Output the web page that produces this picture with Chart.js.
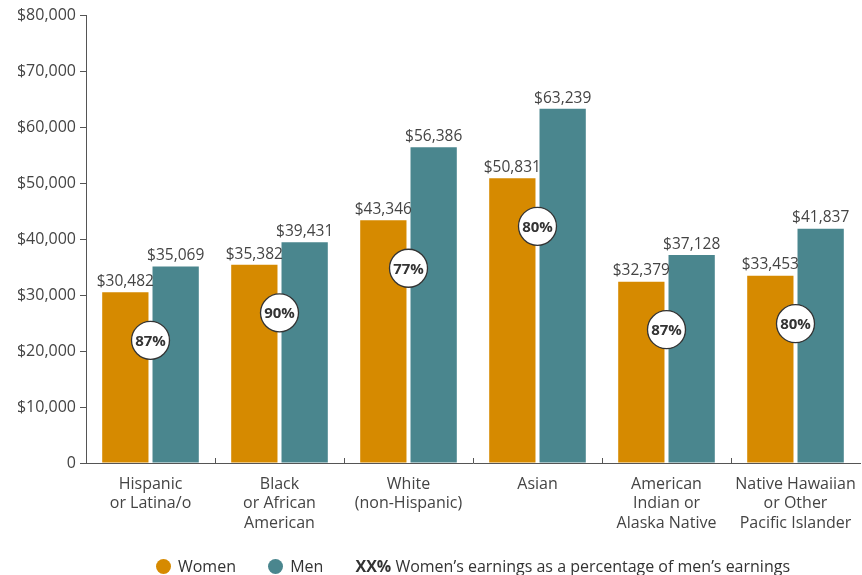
<!DOCTYPE html>
<html>
<head>
<meta charset="utf-8">
<script src="https://cdn.jsdelivr.net/npm/chart.js@4.4.1/dist/chart.umd.min.js"></script>
<style>
  html, body { margin: 0; padding: 0; background: #fff; }
  #wrap { position: relative; width: 862px; height: 575px; }
  #legend {
    position: absolute; left: 0; right: 0; top: 553px;
    text-align: center; font-family: 'Open Sans', sans-serif; font-size: 16px; color: #333;
    padding-left: 84px;
  }
  #legend span.item { display: inline-block; margin-right: 28px; vertical-align: middle; }
  #legend i { display: inline-block; width: 15px; height: 15px; border-radius: 50%; vertical-align: -2px; margin-right: 7px; }
  #legend b { font-weight: 700; }
</style>
</head>
<body>
<div id="wrap">
  <canvas id="myChart" width="862" height="575"></canvas>
  <div id="legend">
    <span class="item"><i style="background:#D68A00"></i>Women</span>
    <span class="item"><i style="background:#4A868E"></i>Men</span>
    <span class="item" style="margin-right:0"><b>XX%</b> Women’s earnings as a percentage of men’s earnings</span>
  </div>
</div>
<script>
const categories = [
    ['Hispanic', 'or Latina/o'],
    ['Black', 'or African', 'American'],
    ['White', '(non-Hispanic)'],
    ['Asian'],
    ['American', 'Indian or', 'Alaska Native'],
    ['Native Hawaiian', 'or Other', 'Pacific Islander']
];
const women = [30482, 35382, 43346, 50831, 32379, 33453];
const men = [35069, 39431, 56386, 63239, 37128, 41837];
const ratios = [87, 90, 77, 80, 87, 80];
const yTicks = [0, 10000, 20000, 30000, 40000, 50000, 60000, 70000, 80000];

const WOMEN_COLOR = '#D68A00';
const MEN_COLOR = '#4A868E';
const FONT = "'Open Sans', sans-serif";

function money(v) {
    return '$' + v.toLocaleString('en-US');
}

const labelsPlugin = {
    id: 'barLabels',
    afterDatasetsDraw(chart) {
        const ctx = chart.ctx;
        ctx.save();
        ctx.font = '15.5px ' + FONT;
        ctx.fillStyle = '#444';
        ctx.textAlign = 'center';
        ctx.textBaseline = 'bottom';
        chart.data.datasets.forEach(function(ds, di) {
            chart.getDatasetMeta(di).data.forEach(function(bar, i) {
                ctx.fillText(money(ds.data[i]), bar.x, bar.y - 3);
            });
        });

        // ratio circles
        const x = chart.scales.x;
        const wMeta = chart.getDatasetMeta(0).data;
        ratios.forEach(function(r, i) {
            const cx = x.getPixelForValue(i);
            const cy = wMeta[i].y + 48;
            ctx.beginPath();
            ctx.arc(cx, cy, 19, 0, Math.PI * 2);
            ctx.fillStyle = '#fff';
            ctx.fill();
            ctx.lineWidth = 1.3;
            ctx.strokeStyle = '#333';
            ctx.stroke();
            ctx.fillStyle = '#333';
            ctx.font = 'bold 15px ' + FONT;
            ctx.textBaseline = 'middle';
            ctx.fillText(r + '%', cx, cy + 1);
        });

        // small x ticks between categories
        const yb = chart.scales.y.getPixelForValue(0);
        ctx.strokeStyle = '#555';
        ctx.lineWidth = 1;
        for (let i = 1; i < categories.length; i++) {
            const bx = Math.round((x.getPixelForValue(i - 1) + x.getPixelForValue(i)) / 2) + 0.5;
            ctx.beginPath();
            ctx.moveTo(bx, yb);
            ctx.lineTo(bx, yb - 5);
            ctx.stroke();
        }
        ctx.restore();
    }
};

new Chart(document.getElementById('myChart'), {
    type: 'bar',
    data: {
        labels: categories,
        datasets: [
            { label: 'Women', data: women, backgroundColor: WOMEN_COLOR, barPercentage: 0.92, categoryPercentage: 0.78 },
            { label: 'Men', data: men, backgroundColor: MEN_COLOR, barPercentage: 0.92, categoryPercentage: 0.78 }
        ]
    },
    options: {
        responsive: false,
        animation: false,
        layout: { padding: { top: 15, right: 2, left: 0, bottom: 0 } },
        plugins: {
            legend: { display: false },
            tooltip: { enabled: false }
        },
        scales: {
            x: {
                grid: { display: false },
                border: { color: '#555', width: 1 },
                ticks: { color: '#444', font: { family: FONT, size: 16, lineHeight: 1.2 }, padding: 4, maxRotation: 0, autoSkip: false },
                afterFit: function(s) { s.height = 112; }
            },
            y: {
                min: 0,
                max: 80000,
                afterBuildTicks: function(s) { s.ticks = yTicks.map(function(v) { return { value: v }; }); },
                grid: { drawOnChartArea: false, tickLength: 6, color: '#555' },
                border: { color: '#555', width: 1 },
                ticks: {
                    color: '#444',
                    font: { family: FONT, size: 16 },
                    padding: 4,
                    callback: function(value) {
                        return value === 0 ? '0' : money(value);
                    }
                },
                afterFit: function(s) { s.width = 86; }
            }
        }
    },
    plugins: [labelsPlugin]
});
</script>
</body>
</html>
